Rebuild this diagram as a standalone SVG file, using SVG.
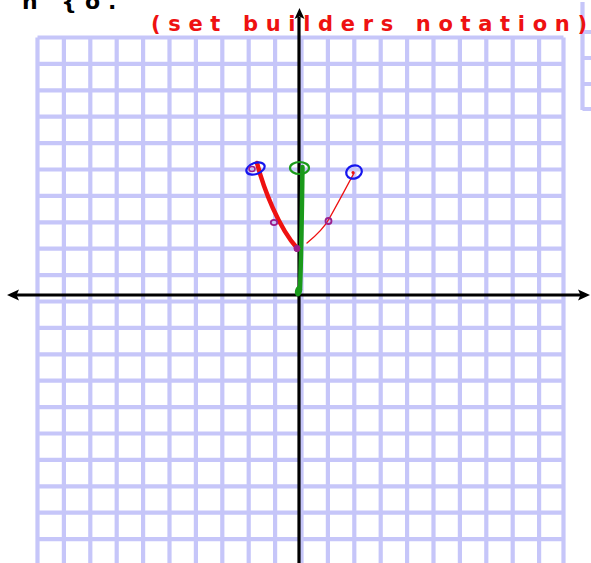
<svg xmlns="http://www.w3.org/2000/svg" width="591" height="563" viewBox="0 0 591 563">
<style>
.grid{stroke:#c6c6f9;stroke-width:4.2;fill:none}
.axis{stroke:#000;stroke-width:3.2;fill:none}
.head{fill:#000}
.hand{font-family:"DejaVu Sans",sans-serif}
</style>
<rect width="591" height="563" fill="#fff"/>
<g id="grid">
<path class="grid" d="M37.5,37.5V563M63.9,37.5V563M90.3,37.5V563M116.7,37.5V563M143.1,37.5V563M169.5,37.5V563M195.9,37.5V563M222.3,37.5V563M248.7,37.5V563M275.1,37.5V563M301.5,37.5V563M327.9,37.5V563M354.3,37.5V563M380.7,37.5V563M407.1,37.5V563M433.5,37.5V563M459.9,37.5V563M486.3,37.5V563M512.7,37.5V563M539.1,37.5V563M563.5,37.5V563"/>
<path class="grid" d="M37.5,37.5H563.5M37.5,63.9H563.5M37.5,90.3H563.5M37.5,116.7H563.5M37.5,143.1H563.5M37.5,169.5H563.5M37.5,195.9H563.5M37.5,222.3H563.5M37.5,248.7H563.5M37.5,275.1H563.5M37.5,301.5H563.5M37.5,327.9H563.5M37.5,354.3H563.5M37.5,380.7H563.5M37.5,407.1H563.5M37.5,433.5H563.5M37.5,459.9H563.5M37.5,486.3H563.5M37.5,512.7H563.5M37.5,539.1H563.5"/>
<path class="grid" d="M582.5,2V110M582.5,32H591M582.5,58H591M582.5,84H591M582.5,109H591"/>
</g>
<g id="axes">
<path class="axis" d="M16,295H581"/>
<path class="axis" d="M299,17V563"/>
<path class="head" d="M7,295L19,289.5L16.5,295L19,300.5Z"/>
<path class="head" d="M590,295L578,289.5L580.5,295L578,300.5Z"/>
<path class="head" d="M299.5,8L294.5,19L299.5,16.5L304.5,19Z"/>
</g>
<g id="title">
<text class="hand" x="22" y="9" font-size="22" font-weight="bold" fill="#000" letter-spacing="8">h {o.</text>
<text class="hand" x="151" y="31" font-size="21" font-weight="600" fill="#ee1111" textLength="436" lengthAdjust="spacing">(set builders notation)</text>
</g>
<g id="curves" fill="none" stroke-linecap="round">
<path d="M257,163C264,190 279,228 297,248" stroke="#ee1111" stroke-width="4.5"/>
<path d="M307,243C318,234 324,228 329,219C338,203 346,188 354,173" stroke="#ee1111" stroke-width="1.4"/>
<path d="M302.5,167C302,200 301.5,250 300,290" stroke="#1a9a1a" stroke-width="4.5"/>
<ellipse cx="298.5" cy="291" rx="3.5" ry="5.5" fill="#1a9a1a" stroke="none" transform="rotate(15 298.5 291)"/>
<ellipse cx="299.5" cy="168" rx="9.5" ry="6" stroke="#1a9a1a" stroke-width="2.2"/>
<ellipse cx="255.5" cy="168.5" rx="9.5" ry="5.5" stroke="#1515ee" stroke-width="2.2" transform="rotate(-20 255.5 168.5)"/>
<ellipse cx="252" cy="169" rx="3" ry="2.5" stroke="#9b1f8a" stroke-width="1.5"/>
<ellipse cx="354" cy="172" rx="8" ry="6.5" stroke="#1515ee" stroke-width="2.2" transform="rotate(-20 354 172)"/>
<circle cx="353" cy="172.5" r="1.5" fill="#ee1111" stroke="none"/>
<ellipse cx="274" cy="222.5" rx="3.2" ry="2.6" stroke="#9b1f8a" stroke-width="1.8"/>
<ellipse cx="328.5" cy="221" rx="3" ry="3" stroke="#9b1f8a" stroke-width="1.8"/>
<ellipse cx="297" cy="248.5" rx="3" ry="3.2" fill="#9b1f8a" stroke="#9b1f8a" stroke-width="1"/>
</g>
</svg>
